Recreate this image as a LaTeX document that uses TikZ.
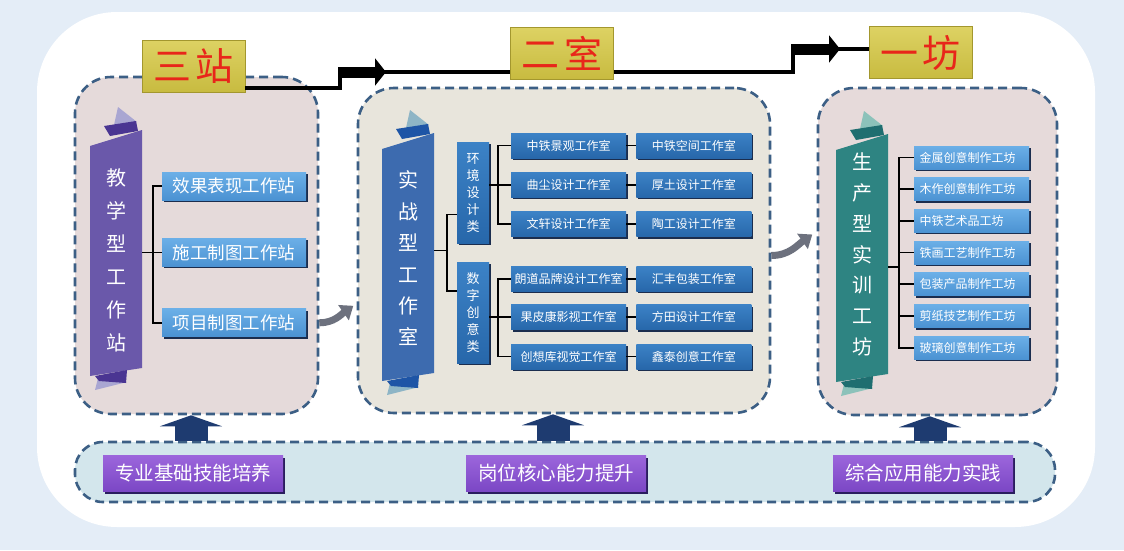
\documentclass[tikz,border=0pt]{standalone}
\usepackage{fontspec}
\setmainfont{Noto Sans CJK SC}
\usetikzlibrary{shapes,arrows.meta,positioning,fit,shadows}
\definecolor{bgblue}{HTML}{E4EDF7}
\definecolor{dashblue}{HTML}{3C5F85}
\definecolor{leftfill}{HTML}{E5DADA}
\definecolor{midfill}{HTML}{E8E5DC}
\definecolor{rightfill}{HTML}{E6DADA}
\definecolor{bandfill}{HTML}{D3E6EC}
\definecolor{titletop}{HTML}{DDD263}
\definecolor{titlebot}{HTML}{C8BB40}
\definecolor{titleedge}{HTML}{A3972E}
\definecolor{titlered}{HTML}{E8261A}
\definecolor{lighttop}{HTML}{6BAFE7}
\definecolor{lightbot}{HTML}{4B92D2}
\definecolor{darktop}{HTML}{3C82C6}
\definecolor{darkbot}{HTML}{2767AA}
\definecolor{boxshade}{HTML}{1B2D4E}
\definecolor{violettop}{HTML}{9C66DC}
\definecolor{violetbot}{HTML}{7B47C5}
\definecolor{violetshade}{HTML}{2A1D5E}
\definecolor{liftblue}{HTML}{1E3B70}
\definecolor{curvegrey}{HTML}{6D717E}
\definecolor{teachmain}{HTML}{6A58AA}
\definecolor{teachdark}{HTML}{4A3592}
\definecolor{teachlight}{HTML}{A9A6D2}
\definecolor{combatmain}{HTML}{3D6BAF}
\definecolor{combatdark}{HTML}{1E55A6}
\definecolor{combatlight}{HTML}{8EB5C6}
\definecolor{producemain}{HTML}{2E8482}
\definecolor{producedark}{HTML}{1F6E70}
\definecolor{producelight}{HTML}{8CC2BA}
\tikzstyle{panel} = [draw=dashblue,line width=2.6pt,dash pattern=on 9pt off 5pt,rounded corners=36pt,inner sep=0]
\tikzstyle{title} = [draw=titleedge,line width=0.8pt,top color=titletop,bottom color=titlebot,text=titlered,font=\fontsize{38}{38}\selectfont,inner sep=0,minimum width=103pt,minimum height=52pt]
\tikzstyle{station} = [top color=lighttop,bottom color=lightbot,text=white,font=\fontsize{17.5}{17.5}\selectfont,inner sep=0,minimum width=144pt,minimum height=28pt,drop shadow={shadow xshift=2pt,shadow yshift=-2pt,fill=boxshade,opacity=1}]
\tikzstyle{studio} = [top color=darktop,bottom color=darkbot,text=white,font=\fontsize{12}{12}\selectfont,inner sep=0,minimum width=115pt,minimum height=25pt,drop shadow={shadow xshift=2pt,shadow yshift=-2pt,fill=boxshade,opacity=1}]
\tikzstyle{kind} = [top color=darktop,bottom color=darkbot,text=white,font=\fontsize{13}{17}\selectfont,align=center,inner sep=0,minimum width=32pt,minimum height=101pt,drop shadow={shadow xshift=2pt,shadow yshift=-2pt,fill=boxshade,opacity=1}]
\tikzstyle{shop} = [top color=lighttop,bottom color=lightbot,text=white,font=\fontsize{12}{12}\selectfont,inner xsep=5.5pt,inner ysep=0,text width=104pt,align=left,minimum height=23pt,drop shadow={shadow xshift=2pt,shadow yshift=-2pt,fill=boxshade,opacity=1}]
\tikzstyle{ability} = [top color=violettop,bottom color=violetbot,text=white,font=\fontsize{19.5}{19.5}\selectfont,inner sep=0,minimum width=180pt,minimum height=36pt,drop shadow={shadow xshift=2pt,shadow yshift=-2.5pt,fill=violetshade,opacity=1}]
\tikzstyle{vert} = [text=white,align=center,inner sep=0,minimum width=52pt]
\tikzstyle{index} = [-,line width=1.7pt]
\tikzstyle{link} = [line width=4pt]
\tikzstyle{fat} = [line width=11pt,-{Triangle[width=27pt,length=11pt]}]
\tikzstyle{curvy} = [draw=curvegrey,line width=7pt,-{Triangle[width=18pt,length=12pt]}]
\tikzstyle{lift} = [draw=liftblue,line width=33pt,-{Triangle[width=62pt,length=11pt]}]
\newcommand{\ribbonshape}[6]{%
  \fill[#6] (#1+28,#2-23) -- (#1+24,#2-5) -- (#1+47,#2-8) -- cycle;
  \fill[#4] (#1,#2+16) -- (#1+52,#2) -- (#1+52,#3-8) -- (#1,#3) -- cycle;
  \fill[#5] (#1+14,#2-4) -- (#1+46,#2-9) -- (#1+48,#2+1) -- (#1+20,#2+6) -- cycle;
  \fill[#6] (#1+8,#3+2) -- (#1+37,#3+6) -- (#1+5,#3+14) -- cycle;
  \fill[#5] (#1+5,#3) -- (#1+37,#3-6) -- (#1+36,#3+7) -- (#1+9,#3+5) -- cycle;
}

\begin{document}
\begin{tikzpicture}[x=1pt,y=-1pt,node distance=10pt]
      \useasboundingbox (0,0) rectangle (1124,550);
      \fill[bgblue] (0,0) rectangle (1124,550);
      \fill[white,rounded corners=80pt] (37,12) rectangle (1095,527);
      \node[panel,fill=leftfill,minimum width=243pt,minimum height=337pt] (pleft) at (196.5,245.5) {};
      \node[panel,fill=midfill,minimum width=412pt,minimum height=325pt] (pmid) at (564,250.5) {};
      \node[panel,fill=rightfill,minimum width=239pt,minimum height=327pt] (pright) at (937.5,251.5) {};
      \node[panel,fill=bandfill,rounded corners=28pt,minimum width=980pt,minimum height=60pt] (band) at (565,472) {};
      \ribbonshape{90}{130}{376}{teachmain}{teachdark}{teachlight}
      \ribbonshape{382}{133}{381}{combatmain}{combatdark}{combatlight}
      \ribbonshape{836}{134}{382}{producemain}{producedark}{producelight}
      \node[vert,font=\fontsize{20}{33}\selectfont] (teach) at (116,260.5) {教\\学\\型\\工\\作\\站};
      \node[vert,font=\fontsize{20}{31.4}\selectfont] (combat) at (408,258.5) {实\\战\\型\\工\\作\\室};
      \node[vert,font=\fontsize{20}{30.8}\selectfont] (produce) at (862,254.5) {生\\产\\型\\实\\训\\工\\坊};
      \node[title] (zhan) at (193.5,66) {三\kern5pt站};
      \node[title] (shi) at (562,53) {二\kern5pt室};
      \node[title] (fang) at (920.5,52.5) {一\kern5pt坊};
      \node[station] (s1) at (234,186) {效果表现工作站};
      \node[station,below=38pt of s1] (s2) {施工制图工作站};
      \node[station,below=42pt of s2] (s3) {项目制图工作站};
      \node[kind] (c1) at (473,192.5) {环\\境\\设\\计\\类};
      \node[kind,below=19pt of c1] (c2) {数\\字\\创\\意\\类};
      \node[studio] (e1) at (568.5,145.5) {中铁景观工作室};
      \node[studio,below=14pt of e1] (e2) {曲尘设计工作室};
      \node[studio,below=14pt of e2] (e3) {文轩设计工作室};
      \node[studio,below=29pt of e3] (e4) {朗道品牌设计工作室};
      \node[studio,below=13pt of e4] (e5) {果皮康影视工作室};
      \node[studio,below=14pt of e5] (e6) {创想库视觉工作室};
      \node[studio,right=of e1] (f1) {中铁空间工作室};
      \node[studio,right=of e2] (f2) {厚土设计工作室};
      \node[studio,right=of e3] (f3) {陶工设计工作室};
      \node[studio,right=of e4] (f4) {汇丰包装工作室};
      \node[studio,right=of e5] (f5) {方田设计工作室};
      \node[studio,right=of e6] (f6) {鑫泰创意工作室};
      \node[shop] (w1) at (971.5,157.5) {金属创意制作工坊};
      \node[shop,below=8.3pt of w1] (w2) {木作创意制作工坊};
      \node[shop,below=8.3pt of w2] (w3) {中铁艺术品工坊};
      \node[shop,below=8.3pt of w3] (w4) {铁画工艺制作工坊};
      \node[shop,below=8.3pt of w4] (w5) {包装产品制作工坊};
      \node[shop,below=8.3pt of w5] (w6) {剪纸技艺制作工坊};
      \node[shop,below=8.3pt of w6] (w7) {玻璃创意制作工坊};
      \node[ability] (a1) at (193,473) {专业基础技能培养};
      \node[ability] (a2) at (556,473) {岗位核心能力提升};
      \node[ability] (a3) at (923,473) {综合应用能力实践};
      \draw[index] (s1.west) -- ++(-9,0) |- (s3.west);
      \draw[index] (teach.east |- s2) -- (s2.west);
      \draw[index] ([yshift=-22pt]c1.west) -- ++(-10,0) |- ([yshift=22pt]c2.west);
      \draw[index] ([yshift=8pt]combat.east) -- ++(13,0);
      \draw[index] (e1.west) -- ++(-13,0) |- (e3.west);
      \draw[index] (c1.east |- e2) -- (e2.west);
      \draw[index] (e4.west) -- ++(-13,0) |- (e6.west);
      \draw[index] (c2.east |- e5) -- (e5.west);
      \draw[index] (e1.east) -- (f1.west);
      \draw[index] (e2.east) -- (f2.west);
      \draw[index] (e3.east) -- (f3.west);
      \draw[index] (e4.east) -- (f4.west);
      \draw[index] (e5.east) -- (f5.west);
      \draw[index] (e6.east) -- (f6.west);
      \draw[index] (w1.west) -- ++(-15,0) |- (w7.west);
      \draw[index] (w2.west) -- ++(-15,0) (w3.west) -- ++(-15,0) (w4.west) -- ++(-15,0) (w5.west) -- ++(-15,0) (w6.west) -- ++(-15,0);
      \draw[index] ([yshift=-12.5pt]produce.east) -- ++(11,0);
      \coordinate (k1) at (340,72);
      \coordinate (k2) at (793,49);
      \draw[link] ([yshift=4pt]zhan.south east) -| (k1) -- (shi.west |- k1);
      \draw[fat] ([xshift=-2pt]k1) -- ++(48,0);
      \draw[link] (shi.east |- k1) -| (k2) -- (fang.west |- k2);
      \draw[fat] ([xshift=-2pt]k2) -- ++(49,0);
      \draw[curvy] (pleft.east |- s3) to[out=0,in=215] ++(34,-17);
      \draw[curvy] ([yshift=-5pt]pmid.east) to[out=0,in=215] ++(41,-21);
      \draw[lift] ([xshift=-5.5pt]band.north -| pleft.south) -- ([xshift=-5.5pt]pleft.south);
      \draw[lift] ([xshift=-11pt]band.north -| pmid.south) -- ([xshift=-11pt]pmid.south);
      \draw[lift] ([xshift=-7.5pt]band.north -| pright.south) -- ([xshift=-7.5pt]pright.south);
    \end{tikzpicture}
\end{document}
